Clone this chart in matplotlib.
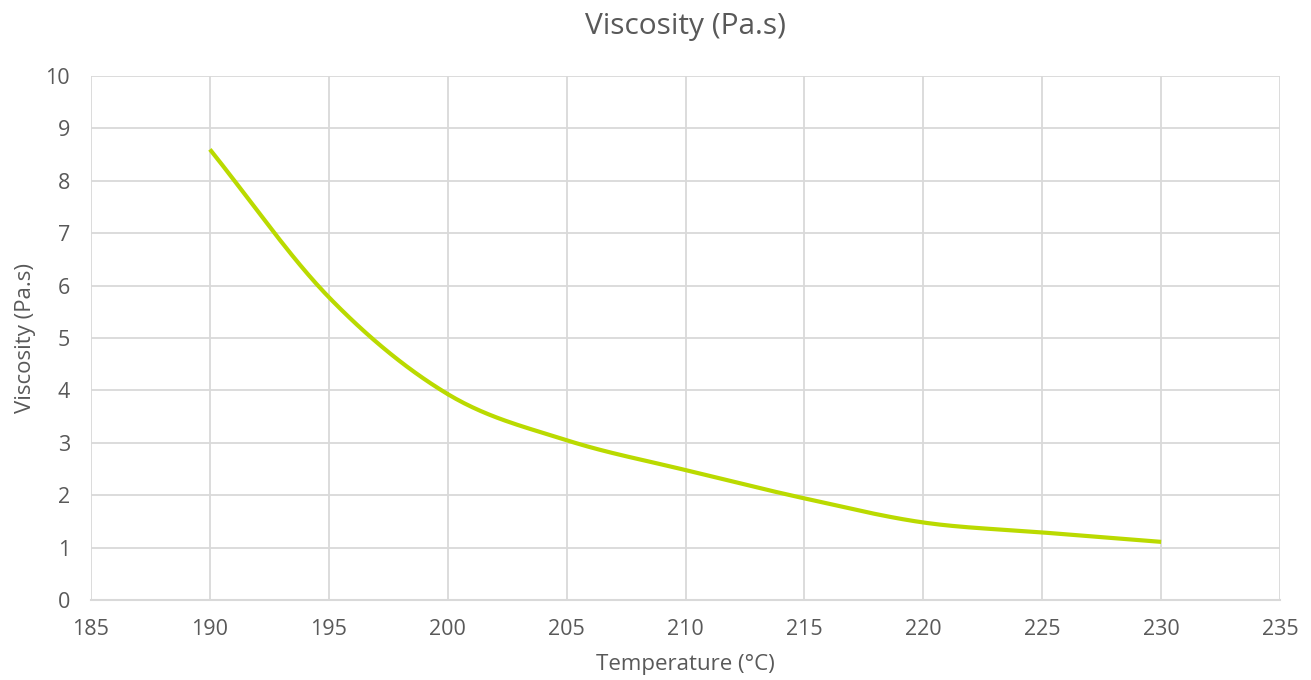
import matplotlib.pyplot as plt
import numpy as np

plt.rcParams['font.family'] = ['Open Sans', 'DejaVu Sans']

temperature = [190, 195, 200, 205, 210, 215, 220, 225, 230]
viscosity = [8.6, 5.78, 3.93, 3.05, 2.48, 1.94, 1.48, 1.29, 1.11]


# Excel-like smoothed line (Catmull-Rom through the points)
def smooth(x, y, n=30):
    x = np.asarray(x, float)
    y = np.asarray(y, float)
    px = np.concatenate([[2 * x[0] - x[1]], x, [2 * x[-1] - x[-2]]])
    py = np.concatenate([[2 * y[0] - y[1]], y, [2 * y[-1] - y[-2]]])
    xs, ys = [], []
    t = np.linspace(0, 1, n)
    for i in range(1, len(px) - 2):
        for p, out in ((px, xs), (py, ys)):
            p0, p1, p2, p3 = p[i - 1], p[i], p[i + 1], p[i + 2]
            out.extend(0.5 * (2 * p1 + (-p0 + p2) * t
                              + (2 * p0 - 5 * p1 + 4 * p2 - p3) * t ** 2
                              + (-p0 + 3 * p1 - 3 * p2 + p3) * t ** 3))
    return xs, ys


text_color = '#595959'
grid_color = '#d9d9d9'

fig = plt.figure(figsize=(13.11, 6.8), dpi=100)
ax = fig.add_axes([0.0694, 0.1176, 0.9070, 0.7706])

sx, sy = smooth(temperature, viscosity)
ax.plot(sx, sy, color='#bada00', lw=3, solid_capstyle='butt', zorder=3)

ax.set_xlim(185, 235)
ax.set_ylim(0, 10)
ax.set_xticks(range(185, 236, 5))
ax.set_yticks(range(0, 11))
ax.grid(True, color=grid_color, lw=1.3)
ax.set_axisbelow(True)
for s in ['top', 'right', 'left']:
    ax.spines[s].set_visible(False)
ax.spines['bottom'].set_color(grid_color)
ax.spines['bottom'].set_linewidth(1.5)
ax.tick_params(length=0, labelsize=15.5, colors=text_color)
ax.tick_params(axis='x', pad=14)
ax.tick_params(axis='y', pad=15)

ax.set_title('Viscosity (Pa.s)', fontsize=21.5, color=text_color, pad=30)
ax.set_xlabel('Temperature (°C)', fontsize=16, color=text_color, labelpad=10)
ax.set_ylabel('Viscosity (Pa.s)', fontsize=16, color=text_color, labelpad=7)

fig.savefig('out.png', dpi=100)
